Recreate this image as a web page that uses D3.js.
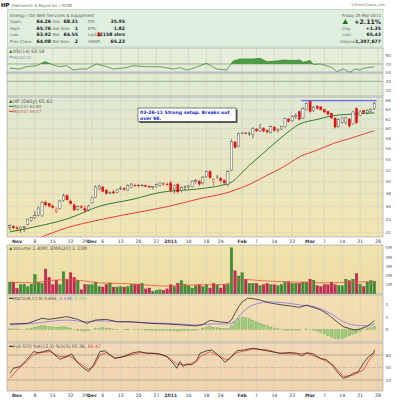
<!DOCTYPE html>
<html><head><meta charset="utf-8">
<script src="https://d3js.org/d3.v7.min.js"></script>
<style>html,body{margin:0;padding:0;background:#fff}text{font-family:"DejaVu Sans",Verdana,sans-serif}</style>
</head><body>
<svg id="chart" width="400" height="400"></svg>
<script>
// ---------- DATA ----------
const firstIndex = -2; // trading-day index of first candle (0 = 1 Nov 2010)
const opens = [42.8,42.9,
42.7,42.5,42.7,43.2,43.8,44.2,44.6,44.5,46.6,46.4,
46.0,45.2,45.6,46.9,47.7,46.8,46.2,45.5,45.9,45.6,
45.4,46.5,47.4,48.8,49.1,48.6,48.1,48.3,48.2,48.8,
48.9,48.6,49.0,49.4,49.4,49.4,49.4,49.2,49.0,49.2,
49.4,49.6,49.6,49.8,48.8,49.5,48.5,49.0,49.1,49.2,
50.0,50.1,49.8,50.9,51.8,50.0,50.8,50.6,50.2,49.6,
52.0,57.3,56.5,59.0,59.1,59.0,58.8,59.9,59.5,60.0,
59.6,59.2,60.3,59.6,59.9,60.4,62.0,61.6,62.5,63.6,
62.2,64.0,65.8,63.8,64.8,64.6,64.0,63.6,63.2,62.2,
60.5,61.3,61.2,62.0,61.0,64.3,62.8,63.8,63.3,63.6,
64.26];
const highs = [43.2,43.1,
43.0,42.9,43.0,44.1,44.3,45.2,45.9,46.8,46.9,46.6,
46.3,45.8,47.0,48.0,47.9,47.0,46.4,46.1,46.2,46.1,
46.2,47.5,49.4,49.5,49.3,48.8,48.4,48.6,48.8,49.2,
49.1,49.6,49.8,49.7,49.6,49.6,49.5,49.4,49.3,49.7,
49.9,49.9,49.9,50.2,49.5,49.8,49.2,49.4,49.5,50.3,
50.5,50.4,51.0,52.0,52.0,50.6,51.2,50.8,50.5,52.0,
57.8,57.5,59.2,59.3,59.3,59.4,60.3,60.1,61.0,60.3,
59.9,60.6,60.5,60.0,60.5,62.3,62.2,62.8,63.2,63.8,
64.5,65.6,66.1,64.8,65.0,64.8,64.2,63.8,63.4,62.3,
62.1,62.4,62.5,62.2,63.7,64.6,63.8,64.0,64.0,64.3,
65.76];
const lows = [42.3,42.5,
42.2,42.0,42.1,43.1,43.6,44.0,44.4,44.3,45.9,45.8,
45.6,44.9,45.5,46.7,46.9,46.2,45.2,45.3,45.6,44.9,
45.2,46.4,47.3,48.6,48.2,47.8,47.9,48.0,48.1,48.6,
48.5,48.5,48.9,49.1,49.0,49.2,49.1,48.9,48.7,49.0,
49.2,49.3,49.3,48.2,48.0,48.0,48.2,48.6,48.8,49.0,
49.7,49.3,49.5,50.7,50.5,49.3,50.5,49.8,49.4,49.2,
51.9,56.0,56.3,58.8,58.8,58.5,58.0,59.3,59.3,59.2,
58.9,59.0,59.3,59.2,59.7,60.2,61.2,61.4,62.0,61.6,
62.0,63.8,63.3,63.5,64.0,63.8,63.2,62.8,62.0,60.0,
60.2,61.0,60.8,60.2,60.8,60.9,62.6,63.2,63.1,63.4,
63.92];
const closes = [43.0,42.7,
42.6,42.8,42.9,44.0,44.2,44.5,45.7,46.6,46.2,46.0,
45.8,45.5,46.8,47.7,47.0,46.4,45.4,45.9,45.8,45.3,
46.0,47.3,49.1,49.2,48.4,48.0,48.2,48.1,48.6,48.9,
48.7,49.4,49.6,49.4,49.3,49.4,49.2,49.1,49.2,49.5,
49.8,49.7,49.5,48.5,49.3,48.3,49.0,49.2,49.3,50.1,
50.2,49.6,50.8,51.8,50.7,50.4,50.8,50.2,49.8,51.8,
57.4,56.2,59.0,59.1,59.0,59.0,60.0,59.5,60.1,59.5,
59.3,60.4,59.6,59.8,60.4,62.1,61.5,62.5,62.8,61.9,
64.2,65.4,63.6,64.5,64.3,64.0,63.5,63.0,62.2,60.3,
61.9,62.2,62.2,60.5,63.5,61.2,63.5,63.4,63.8,64.08,
65.43];
// volume in millions of shares
const volumes = [1.28,1.28,0.6,1.0,1.05,0.8,1.05,2.1,1.3,1.15,
2.7,1.8,1.0,1.5,1.0,2.4,1.6,2.3,1.8,1.5,
0.45,1.05,1.0,1.0,1.3,0.8,0.75,1.05,1.2,0.75,
0.75,0.8,0.75,0.8,1.05,1.05,1.05,1.15,0.55,0.65,
0.3,0.4,0.45,0.4,0.55,1.0,0.8,1.15,1.45,1.05,
0.9,0.65,0.9,
1.0,0.8,1.0,0.65,1.15,1.0,0.65,1.0,1.05,5.0,
2.5,1.95,2.3,1.6,1.15,1.15,1.15,0.9,1.0,1.15,
1.0,1.0,0.9,1.05,1.3,1.3,1.15,1.15,1.15,1.3,
1.3,1.6,1.5,0.9,0.8,1.0,1.0,1.3,1.0,0.9,
0.9,1.6,1.45,1.6,2.2,1.05,0.8,1.3,1.45,1.4];
const volEmaIdx = [-2,4.5,9,14,19,23,32,42,51,57,59.6,61.5,64.6,68,77,87,96,100];
const volEmaVal = [1.3,1.2,1.45,1.55,1.4,1.2,1.1,0.85,1.0,1.0,1.2,1.5,1.55,1.45,1.3,1.2,1.3,1.33];

const ma20Idx = [-2,4.6,13.9,23.2,32.5,40,51,58,59.6,65,70,74.5,79,84,88.5,93,100];
const ma20Val = [42.1,42.8,44.0,46.0,47.1,48.2,48.8,49.5,49.8,52.9,55.8,58.5,60.9,61.9,62.7,63.0,63.3];
const ma50Idx = [6,13.9,23.2,32.5,41.9,51.2,59.6,65.2,69.9,74.5,79.2,83.9,88.5,93.2,100];
const ma50Val = [41.2,42.7,43.9,44.9,45.9,47.2,48.3,49.6,51.1,52.6,54.5,55.7,57.0,58.0,59.57];
const resistIdx = [79.5,100.6];
const resistVal = [66,66];

const rsiIdx = [-2,0.8,2.7,5.5,7.8,10.2,12,13.9,15.8,17.6,19.5,22.3,25.1,27,30.7,32.5,36.3,40,43.7,45.6,47.5,49.3,51.2,53,55.9,58.7,60.5,62.4,66.1,68,69.9,72.7,74.5,77.3,79.2,80.1,82,82.9,84.8,86.6,88.5,89.4,91.3,93.2,94.6,96,96.9,100];
const rsiVal = [60,58.4,63.7,66,75.3,67.6,63.7,66,56,58.4,58.4,70,63.7,58.4,61.5,66,63.7,63.7,58.4,61.5,56,60,66,71.5,58.4,56,76.8,81.4,81.4,83,75.3,76.8,79.1,78,79.1,73.8,78,69,70,66,60,52.2,58.4,50.8,58.4,56,60,63.58];

const macdIdx = [-2,3,7,9,14,17,19.5,22,25,28,32,37,42,46.5,50,52,54,57,59,60,61,62,63,64.5,66,68,70,72,74.5,77,79,81,83,85,87,88.5,90,91.5,93,94.5,96,98,100];
const macdVal = [0.44,0.49,0.89,0.81,1.02,0.81,0.49,0.75,0.81,0.62,0.62,0.49,0.44,0.36,0.28,0.4,0.72,0.6,0.55,0.75,1.3,1.8,2.2,2.48,2.45,2.34,2.15,2.05,1.94,1.85,1.76,1.94,1.75,1.55,1.2,0.85,0.5,0.2,0.08,-0.04,0.05,0.25,0.694];
const sigIdx = [-2,4.6,14,19.5,23,28,37,45,50.3,55,58.7,60.5,62.4,64,66,68,70,72,74.5,77,79.2,81.5,84,86,88.5,90,91.3,93,94.1,96,97.8,100];
const sigVal = [0.36,0.49,0.75,0.62,0.7,0.62,0.54,0.45,0.36,0.45,0.44,0.55,1.15,1.6,1.94,2.1,2.21,2.18,2.13,2.05,1.94,1.88,1.76,1.5,1.15,0.85,0.62,0.45,0.36,0.32,0.3,0.438];
const macdHist = [0.05,0.05,0.04,0.03,0.02,0.05,0.1,0.18,0.25,0.3,0.28,0.22,
0.2,0.18,0.2,0.22,0.18,0.1,0.02,-0.05,-0.1,-0.12,
-0.08,0.0,0.08,0.12,0.14,0.12,0.08,0.04,0.02,0.0,
-0.02,-0.03,0.0,0.02,0.01,-0.02,-0.04,-0.05,-0.05,-0.06,
-0.06,-0.05,-0.06,-0.1,-0.1,-0.12,-0.1,-0.08,-0.08,-0.06,
-0.05,0.02,0.12,0.2,0.22,0.18,0.14,0.1,0.08,0.08,
0.3,0.65,0.9,1.0,0.95,0.85,0.72,0.6,0.5,0.4,
0.3,0.2,0.12,0.05,-0.02,-0.05,-0.06,-0.05,-0.04,-0.05,
0.0,0.05,0.02,-0.05,-0.12,-0.22,-0.35,-0.5,-0.62,-0.72,
-0.75,-0.7,-0.6,-0.48,-0.36,-0.28,-0.15,-0.02,0.08,0.15,
0.257];

const stoKIdx = [-2,-1,0.8,2.7,4.6,6,7.4,9.2,10.6,12,13.9,15.3,16.7,18.1,20,21.4,23.2,24.6,26,27.4,29.7,32.5,34.4,36.3,38.1,40,41.9,43.7,44.7,45.6,46.5,47.5,48.9,50.3,51.2,53.1,54.5,56.3,58.2,59.6,61.5,63.4,66.1,69.9,73.6,76.4,78.3,79.7,81.1,83,84.8,86.7,88.5,89.9,91.3,92.7,94.1,95.5,96.9,98.4,99.8,100];
const stoKVal = [36,48,52,68,88,85.5,88,92,80,69.6,76,82.4,64,52,40,56,88,90,80,72,76,85.5,88,84,84,82.4,76,60,48,64,52,58.4,56,68,84,90,92,80,62.4,72,90,92,96,90,84,86,84,77.6,85.5,82.4,72,68,52,36,24,28,36,40,60,76,85.5,92.36];
const stoDIdx = [-2,0,2.7,4.6,6.4,9.2,12,14.8,17.6,20,21.4,23.2,25.1,27.4,30.7,34.4,38.1,41.9,44.7,47.5,50.3,51.2,54,56.8,58.7,61.5,66.1,69.9,73.6,78.3,81.1,84.8,88.5,91.3,94.1,96.9,98.4,100];
const stoDVal = [24,44,64,80,85.5,88,76,77.6,60,45.6,52,80,85.5,72,77.6,85.5,84,77.6,58.4,56,64,76,88,76,68,85.5,94.4,92,84,82.4,84,72,56,28,32,44,66,85.47];

const dateTickIdx = [0,5,10,15,19,21,24,29,34,39,43,48,53,57,63,67,72,77,82,86,91,96,101];
const dateTickLabels = ["Nov","8","15","22","29","Dec","6","13","20","27","2011","10","18","24","Feb","7","14","22","Mar","7","14","21","28"];
const boldLabels = ["Nov","Dec","2011","Feb","Mar"];
const priceTicks = [42,44,46,48,50,52,54,56,58,60,62,64,66];
const rsiTicks = [10,30,50,70,90];
const volTicks = [1,2,3,4,5];
const volTickLabels = ["1M","2M","3M","4M","5M"];
const macdTicks = [0,1,2];
const stoTicks = [20,50,80];

// ---------- LAYOUT ----------
const svg = d3.select("#chart");
const X0 = 7, X1 = 383;
const x = d3.scaleLinear().domain([-2.8, 102.4]).range([X0, X1]);
const P = {rsi:[48,96], price:[97,237], vol:[245,294], macd:[295,342], sto:[343,391]};
const yR = d3.scaleLinear().domain([-3.8,106.8]).range([P.rsi[1],P.rsi[0]]);
const yP = d3.scaleLog().domain([41.38,66.84]).range([P.price[1],P.price[0]]);
const yV = d3.scaleLinear().domain([0,5.3]).range([P.vol[1],P.vol[0]]);
const yM = d3.scaleLinear().domain([-0.99,2.74]).range([P.macd[1],P.macd[0]]);
const yS = d3.scaleLinear().domain([-6.5,108.7]).range([P.sto[1],P.sto[0]]);

const defs = svg.append("defs");
function grad(id,c1,c2){const g=defs.append("linearGradient").attr("id",id).attr("x1",0).attr("y1",0).attr("x2",0).attr("y2",1);
 g.append("stop").attr("offset","0%").attr("stop-color",c1);g.append("stop").attr("offset","100%").attr("stop-color",c2);}
grad("gRsi","#e7efdc","#dde9ce");
grad("gPrice","#dfe9d3","#f3e5b1");
grad("gVol","#f0e3ae","#eddca3");
grad("gMacd","#f2dfb3","#f0d9ae");
grad("gSto","#f2dab6","#f0d4ae");
function clip(id,k){defs.append("clipPath").attr("id",id).append("rect").attr("x",X0).attr("y",P[k][0]).attr("width",X1-X0).attr("height",P[k][1]-P[k][0]);}
["rsi","price","vol","macd","sto"].forEach(k=>clip("c_"+k,k));

function T(px,py,s,o={}){const t=svg.append("text").attr("x",px).attr("y",py).text(s)
 .attr("font-size",o.fs||5).attr("fill",o.c||"#444");
 if(o.b) t.attr("font-weight","bold"); if(o.a) t.attr("text-anchor",o.a); return t;}

// panel backgrounds
const bgs={rsi:"gRsi",price:"gPrice",vol:"gVol",macd:"gMacd",sto:"gSto"};
Object.keys(P).forEach(k=>{
 svg.append("rect").attr("x",X0).attr("y",P[k][0]).attr("width",X1-X0).attr("height",P[k][1]-P[k][0])
  .attr("fill","url(#"+bgs[k]+")");
 // vertical grid
 svg.append("g").selectAll("line").data(dateTickIdx).join("line")
  .attr("x1",d=>x(d)).attr("x2",d=>x(d)).attr("y1",P[k][0]).attr("y2",P[k][1])
  .attr("stroke","#c8c8be").attr("stroke-width",0.5);
});

// ---------- header ----------
const title = svg.append("text").attr("x",1).attr("y",6.5).attr("font-size",4);
title.append("tspan").text("HP").attr("font-weight","bold").attr("font-size",5.5).attr("fill","#111");
title.append("tspan").text(" (Helmerich & Payne Inc.) NYSE").attr("fill","#666");
T(385,5.5,"©StockCharts.com",{fs:3.6,c:"#777",a:"end"});
svg.append("rect").attr("x",7.5).attr("y",9.5).attr("width",375.5).attr("height",37.5)
 .attr("fill","#dfefdf").attr("stroke","#a8c8a8").attr("stroke-width",0.6);
T(10,16.5,"Energy / Oil Well Services & Equipment",{fs:4.3,c:"#555"});
const infoRows=[["Open:","64.26","Ask:","68.31","P/E:","35.95"],
 ["High:","65.76","Ask Size:","1","EPS:","1.82"],
 ["Low:","63.92","Bid:","64.55","Last:","32158 shrs"],
 ["Prev Close:","64.08","Bid Size:","2","VWAP:","65.23"]];
const rowY=[23,29.6,36.2,42.8];
infoRows.forEach((r,i)=>{
 T(10,rowY[i],r[0],{fs:4,c:"#666"});
 T(51,rowY[i],r[1],{fs:4.6,c:"#222",b:1,a:"end"});
 T(52.5,rowY[i],r[2],{fs:4,c:"#666"});
 T(78,rowY[i],r[3],{fs:4.6,c:"#222",b:1,a:"end"});
 T(88,rowY[i],r[4],{fs:4,c:"#666"});
 T(125,rowY[i],r[5],{fs:4.6,c:"#222",b:1,a:"end"});
});
svg.append("path").attr("d","M98.2,32.6 h1.6 v2 h1.2 l-2,2.4 l-2,-2.4 h1.2 z").attr("fill","#d11");
T(342,16.5,"Friday",{fs:4,c:"#555"});
T(381,16.5,"25-Mar-2011",{fs:4,c:"#555",a:"end"});
svg.append("path").attr("d","M342.5,24 l2.8,-5 l2.8,5 z").attr("fill","#1f7a1f");
T(381,24,"+2.11%",{fs:6.2,c:"#222",b:1,a:"end"});
T(342,30,"Chg:",{fs:4,c:"#666"}); T(381,30,"+1.35",{fs:4.6,c:"#222",b:1,a:"end"});
T(342,36.4,"Last:",{fs:4,c:"#666"}); T(381,36.4,"65.43",{fs:4.6,c:"#222",b:1,a:"end"});
T(340,42.8,"Volume:",{fs:4,c:"#666"}); T(381,42.8,"1,397,677",{fs:4.6,c:"#222",b:1,a:"end"});

// ---------- RSI ----------
const gR = svg.append("g").attr("clip-path","url(#c_rsi)");
[70,30].forEach(v=>gR.append("line").attr("x1",X0).attr("x2",X1).attr("y1",yR(v)).attr("y2",yR(v)).attr("stroke","#7f9a7a").attr("stroke-width",0.7));
gR.append("line").attr("x1",X0).attr("x2",X1).attr("y1",yR(50)).attr("y2",yR(50)).attr("stroke","#b9bdc6").attr("stroke-width",2.4);
const rsiPts = rsiIdx.map((d,i)=>[d,rsiVal[i]]);
defs.append("clipPath").attr("id","c_rsiHi").append("rect").attr("x",X0).attr("y",P.rsi[0]).attr("width",X1-X0).attr("height",yR(70)-P.rsi[0]);
gR.append("path").datum(rsiPts).attr("clip-path","url(#c_rsiHi)")
 .attr("d",d3.area().x(d=>x(d[0])).y0(yR(70)).y1(d=>yR(d[1])))
 .attr("fill","#4f9a45");
gR.append("path").datum(rsiPts).attr("d",d3.line().x(d=>x(d[0])).y(d=>yR(d[1])))
 .attr("fill","none").attr("stroke","#2f7f2f").attr("stroke-width",0.7);
svg.append("path").attr("d","M9,53 l1.8,-3.2 l1.8,3.2 z").attr("fill","#2a8a2a");
T(13,53,"RSI(14) 63.58",{fs:4.6,c:"#555"});
svg.append("line").attr("x1",9).attr("x2",13).attr("y1",57).attr("y2",57).attr("stroke","#6a8ac0").attr("stroke-width",1);
T(13,58.6,"HL(50.0)",{fs:4.2,c:"#7a8ab0"});

// ---------- PRICE ----------
const gP = svg.append("g").attr("clip-path","url(#c_price)");
gP.selectAll("line.h").data(priceTicks).join("line").attr("class","h")
 .attr("x1",X0).attr("x2",X1).attr("y1",d=>yP(d)).attr("y2",d=>yP(d)).attr("stroke","#cfd0c4").attr("stroke-width",0.5);
const days = d3.range(opens.length).map(k=>({i:firstIndex+k,o:opens[k],h:highs[k],l:lows[k],c:closes[k],
 up: k===0 ? closes[k]>=opens[k] : closes[k]>=closes[k-1]}));
const lineFn=(ys)=>d3.line().x(d=>x(d[0])).y(d=>ys(d[1]));
gP.append("path").datum(ma50Idx.map((d,i)=>[d,ma50Val[i]])).attr("d",lineFn(yP).curve(d3.curveMonotoneX))
 .attr("fill","none").attr("stroke","#ee2a2a").attr("stroke-width",0.9);
gP.append("path").datum(ma20Idx.map((d,i)=>[d,ma20Val[i]])).attr("d",lineFn(yP).curve(d3.curveMonotoneX))
 .attr("fill","none").attr("stroke","#1f6e1f").attr("stroke-width",0.9);
gP.append("path").datum(resistIdx.map((d,i)=>[d,resistVal[i]])).attr("d",lineFn(yP))
 .attr("fill","none").attr("stroke","#3a3aff").attr("stroke-width",0.9);
const cw=2.2;
const cg=gP.selectAll("g.cd").data(days).join("g").attr("class","cd");
cg.append("line").attr("x1",d=>x(d.i)).attr("x2",d=>x(d.i)).attr("y1",d=>yP(d.h)).attr("y2",d=>yP(d.l))
 .attr("stroke",d=>d.up?"#222":"#e01010").attr("stroke-width",0.6);
cg.append("rect").attr("x",d=>x(d.i)-cw/2).attr("width",cw)
 .attr("y",d=>yP(Math.max(d.o,d.c))).attr("height",d=>Math.max(0.6,Math.abs(yP(d.o)-yP(d.c))))
 .attr("fill",d=>d.c<d.o?(d.up?"#222":"#e01010"):"#fbfbf4")
 .attr("stroke",d=>d.up?"#333":"#e01010").attr("stroke-width",0.4);
// legend
svg.append("path").attr("d","M9,103 l1.8,-3.2 l1.8,3.2 z").attr("fill","#2a8a2a");
T(13,103,"HP (Daily) 65.43",{fs:4.8,c:"#555"});
svg.append("line").attr("x1",9).attr("x2",13).attr("y1",106.3).attr("y2",106.3).attr("stroke","#1f6e1f").attr("stroke-width",1);
T(13,108,"MA(20) 63.80",{fs:4.2,c:"#5a7a5a"});
svg.append("line").attr("x1",9).attr("x2",13).attr("y1",111.3).attr("y2",111.3).attr("stroke","#ee2a2a").attr("stroke-width",1);
T(13,113,"MA(50) 59.57",{fs:4.2,c:"#d05050"});
// annotation
svg.append("rect").attr("x",139.5).attr("y",109.5).attr("width",98).attr("height",13.5).attr("fill","#555");
svg.append("rect").attr("x",138).attr("y",108).attr("width",98).attr("height",13.5).attr("fill","#fff").attr("stroke","#333").attr("stroke-width",0.6);
T(140,113.8,"03-26-11 Strong setup. Breaks out",{fs:4.6,c:"#1428d8",b:1});
T(140,119.6,"over 66.",{fs:4.6,c:"#1428d8",b:1});

// ---------- date strip ----------
function dateLabels(yy){
 svg.append("g").selectAll("text").data(dateTickIdx).join("text")
  .attr("x",d=>x(d)).attr("y",yy).attr("text-anchor","middle").attr("font-size",4.6)
  .attr("font-weight",(d,i)=>boldLabels.includes(dateTickLabels[i])?"bold":"normal")
  .attr("fill","#333").text((d,i)=>dateTickLabels[i]);
}
dateLabels(242.8);
dateLabels(397);

// ---------- VOLUME ----------
const gV = svg.append("g").attr("clip-path","url(#c_vol)");
gV.selectAll("rect").data(days).join("rect")
 .attr("x",(d)=>x(d.i)-1.3).attr("width",2.6)
 .attr("y",(d,k)=>yV(volumes[k])).attr("height",(d,k)=>yV(0)-yV(volumes[k]))
 .attr("fill",d=>d.up?"#3f8f3a":"#c42a55").attr("stroke",d=>d.up?"#2d6e2a":"#9a1c40").attr("stroke-width",0.3);
gV.append("path").datum(volEmaIdx.map((d,i)=>[d,volEmaVal[i]])).attr("d",lineFn(yV).curve(d3.curveMonotoneX))
 .attr("fill","none").attr("stroke","#f0503a").attr("stroke-width",0.8);
svg.append("path").attr("d","M9,250 l1.8,-3.2 l1.8,3.2 z").attr("fill","#2a8a2a");
T(13,250,"Volume 1.40M, EMA(20) 1.33M",{fs:4.8,c:"#555"});

// ---------- MACD ----------
const gM = svg.append("g").attr("clip-path","url(#c_macd)");
gM.selectAll("rect").data(days).join("rect")
 .attr("x",d=>x(d.i)-1.2).attr("width",2.4)
 .attr("y",(d,k)=>yM(Math.max(0,macdHist[k]))).attr("height",(d,k)=>Math.abs(yM(macdHist[k])-yM(0)))
 .attr("fill","#9ccf7c").attr("stroke","#5e9c4c").attr("stroke-width",0.3);
gM.append("path").datum(sigIdx.map((d,i)=>[d,sigVal[i]])).attr("d",lineFn(yM).curve(d3.curveMonotoneX))
 .attr("fill","none").attr("stroke","#8a72e6").attr("stroke-width",0.8);
gM.append("path").datum(macdIdx.map((d,i)=>[d,macdVal[i]])).attr("d",lineFn(yM))
 .attr("fill","none").attr("stroke","#111").attr("stroke-width",0.7);
svg.append("line").attr("x1",9).attr("x2",13).attr("y1",298.3).attr("y2",298.3).attr("stroke","#111").attr("stroke-width",1);
const mt = svg.append("text").attr("x",13).attr("y",300).attr("font-size",4.3).attr("fill","#555");
mt.append("tspan").text("MACD(8,17,9) 0.694, ");
mt.append("tspan").text("0.438").attr("fill","#7a6ad8");
mt.append("tspan").text(", ");
mt.append("tspan").text("0.257").attr("fill","#8ac070");

// ---------- STO ----------
const gS = svg.append("g").attr("clip-path","url(#c_sto)");
[80,20].forEach(v=>gS.append("line").attr("x1",X0).attr("x2",X1).attr("y1",yS(v)).attr("y2",yS(v)).attr("stroke","#9a9a88").attr("stroke-width",0.7));
gS.append("line").attr("x1",X0).attr("x2",X1).attr("y1",yS(50)).attr("y2",yS(50)).attr("stroke","#b0a890").attr("stroke-width",0.6).attr("stroke-dasharray","3,1,1,1");
gS.append("path").datum(stoDIdx.map((d,i)=>[d,stoDVal[i]])).attr("d",lineFn(yS))
 .attr("fill","none").attr("stroke","#f03a2a").attr("stroke-width",0.8);
gS.append("path").datum(stoKIdx.map((d,i)=>[d,stoKVal[i]])).attr("d",lineFn(yS))
 .attr("fill","none").attr("stroke","#111").attr("stroke-width",0.7);
svg.append("line").attr("x1",9).attr("x2",13).attr("y1",346.3).attr("y2",346.3).attr("stroke","#111").attr("stroke-width",1);
const st = svg.append("text").attr("x",13).attr("y",348).attr("font-size",4.6).attr("fill","#555");
st.append("tspan").text("Full STO %K(12,3) %D(3) 92.36, ");
st.append("tspan").text("85.47").attr("fill","#e04030");

// ---------- panel borders ----------
Object.keys(P).forEach(k=>{
 svg.append("rect").attr("x",X0).attr("y",P[k][0]).attr("width",X1-X0).attr("height",P[k][1]-P[k][0])
  .attr("fill","none").attr("stroke","#9a9a9a").attr("stroke-width",0.6);
});

// ---------- right axes ----------
function rAxis(sc,ticks,labels){
 svg.append("g").selectAll("text").data(ticks).join("text")
  .attr("x",385.5).attr("y",d=>sc(d)+1.6).attr("font-size",4.2).attr("fill","#555")
  .text((d,i)=>labels?labels[i]:d);
}
rAxis(yR,rsiTicks); rAxis(yP,priceTicks); rAxis(yV,volTicks,volTickLabels); rAxis(yM,macdTicks); rAxis(yS,stoTicks);
</script>
</body></html>
